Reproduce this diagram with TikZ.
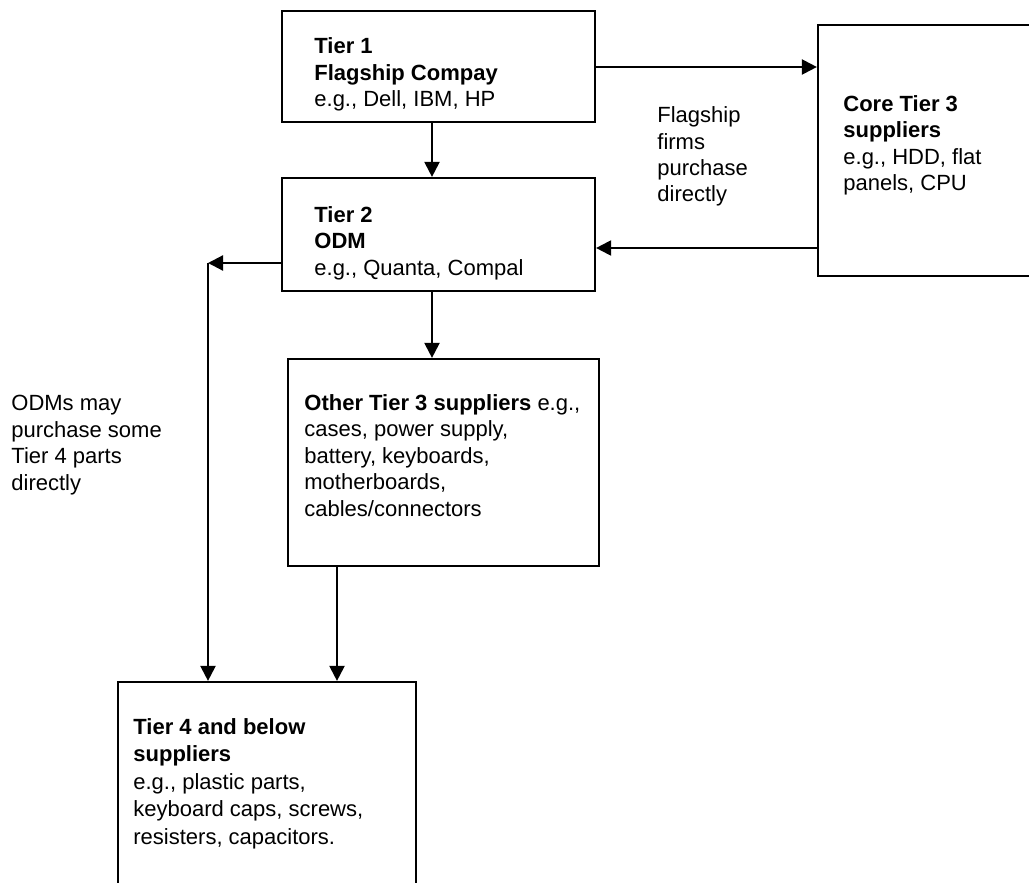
\documentclass[tikz,border=0pt]{standalone}
\usepackage{fontspec}
\setmainfont{Liberation Sans}
\usetikzlibrary{arrows.meta,fit}
\tikzset{
  box/.style={draw, line width=1.1pt, inner sep=0pt},
  % texts are placed by the baseline of their last line
  txt/.style={anchor=base west, align=left, inner sep=0pt,
              font=\fontsize{11}{13.25}\selectfont},
  arr/.style={line width=1.1pt, -{Triangle[length=7.5pt,width=7.5pt]}}
}
\begin{document}
\begin{tikzpicture}[x=0.5pt, y=-0.5pt]
\useasboundingbox (0,0) rectangle (1029,883);
\begin{scope}
\clip (0,0) rectangle (1029,883);

% boxes
\node[box, fit={(282,11) (595,122)}] (t1) {};
\node[box, fit={(282,178) (595,291)}] (t2) {};
\node[box, fit={(818,25) (1060,276)}] (core) {};
\node[box, fit={(288,359) (599,566)}] (oth) {};
\node[box, fit={(118,682) (416,920)}] (t4) {};

% box texts
\node[txt] (t1txt) at (314,107) {\textbf{Tier 1}\\\textbf{Flagship Compay}\\e.g., Dell, IBM, HP};
\node[txt] (t2txt) at (314,275) {\textbf{Tier 2}\\\textbf{ODM}\\e.g., Quanta, Compal};
\node[txt] (coretxt) at (843,191) {\textbf{Core Tier 3}\\\textbf{suppliers}\\e.g., HDD, flat\\panels, CPU};
\node[txt] (othtxt) at (304,516) {\textbf{Other Tier 3 suppliers} e.g.,\\cases, power supply,\\battery, keyboards,\\motherboards,\\cables/connectors};
\node[txt, font=\fontsize{11}{13.7}\selectfont] (t4txt) at (133,844) {\textbf{Tier 4 and below}\\\textbf{suppliers}\\e.g., plastic parts,\\keyboard caps, screws,\\resisters, capacitors.};

% free labels
\node[txt] (flag) at (657,202) {Flagship\\firms\\purchase\\directly};
\node[txt] (odms) at (11,490) {ODMs may\\purchase some\\Tier 4 parts\\directly};

% connector guide coordinates
\coordinate (yA) at (0,67);
\coordinate (yB) at (0,248);
\coordinate (xA) at (432,0);
\coordinate (xB) at (337,0);
\coordinate (corner) at (208,263);

% connectors
\draw[arr] (t1.east |- yA) -- (core.west |- yA);
\draw[arr] (core.west |- yB) -- (t2.east |- yB);
\draw[arr] (t1.south -| xA) -- (t2.north -| xA);
\draw[arr] (t2.south -| xA) -- (oth.north -| xA);
\draw[arr] (oth.south -| xB) -- (t4.north -| xB);
\draw[arr] (t2.west |- corner) -- (corner);
\draw[arr] (corner) -- (corner |- t4.north);
\end{scope}
\end{tikzpicture}
\end{document}
